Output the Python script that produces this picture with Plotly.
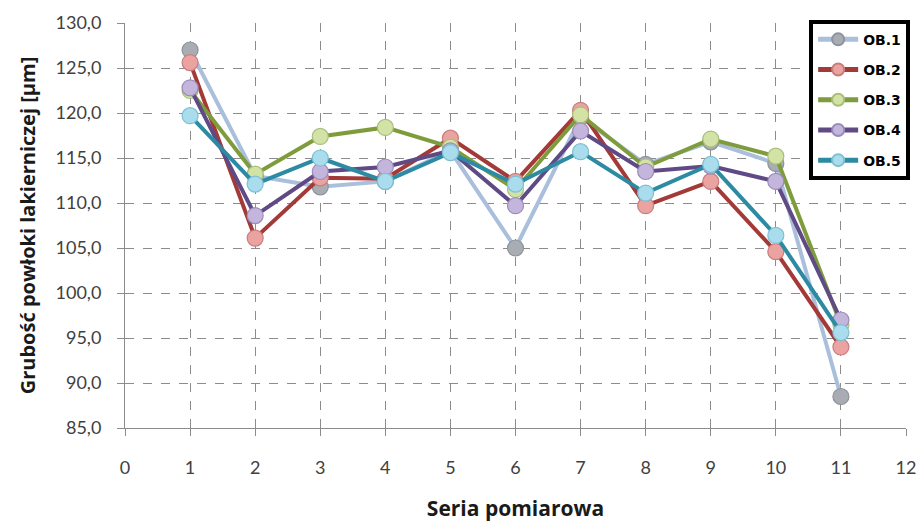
import plotly.graph_objects as go

series_x = [1, 2, 3, 4, 5, 6, 7, 8, 9, 10, 11]
names = ["OB.1", "OB.2", "OB.3", "OB.4", "OB.5"]
ob1 = [127.0, 113.0, 111.8, 112.4, 115.8, 105.0, 119.5, 114.3, 116.8, 114.4, 88.5]
ob2 = [125.6, 106.1, 112.8, 112.7, 117.2, 112.4, 120.3, 109.7, 112.4, 104.6, 94.0]
ob3 = [122.5, 113.2, 117.4, 118.4, 116.2, 111.5, 119.8, 114.0, 117.1, 115.2, 96.5]
ob4 = [122.8, 108.6, 113.5, 114.0, 115.8, 109.7, 118.0, 113.5, 114.1, 112.4, 97.0]
ob5 = [119.7, 112.1, 115.0, 112.4, 115.6, 112.1, 115.7, 111.1, 114.3, 106.4, 95.6]
y_ticks = [85, 90, 95, 100, 105, 110, 115, 120, 125, 130]
x_ticks = list(range(0, 13))

values = [ob1, ob2, ob3, ob4, ob5]
line_colors = ["#a9bfdc", "#a33a38", "#7f9c3c", "#5f4a85", "#2c8ba3"]
marker_colors = ["#a9adb3", "#eaa3a1", "#d3e3a6", "#c3b5dc", "#a9dcec"]
marker_edges = ["#8c939b", "#c97d7b", "#aabd7c", "#9a8cba", "#7fbfd2"]

fig = go.Figure()
for i, (n, v) in enumerate(zip(names, values)):
    fig.add_trace(go.Scatter(
        x=series_x, y=v, name=n, mode="lines+markers",
        legendgroup=n,
        line=dict(color=line_colors[i], width=4),
        marker=dict(size=16, color=marker_colors[i],
                    line=dict(color=marker_edges[i], width=1.2)),
    ))

fig.update_layout(
    width=922, height=522,
    margin=dict(l=125, r=12, t=23, b=94),
    plot_bgcolor="white", paper_bgcolor="white",
    separators=",.",
    showlegend=True,
    legend=dict(
        x=0.876, y=1.008, xanchor="left", yanchor="top",
        bordercolor="black", borderwidth=4, bgcolor="white",
        font=dict(family="DejaVu Sans", size=14, color="black", weight="bold"),
        tracegroupgap=9, itemwidth=40, itemsizing="constant",
    ),
    xaxis=dict(
        range=[0, 12], tickvals=x_ticks, showgrid=True, automargin=False,
        gridcolor="#8c8c8c", griddash="dash", gridwidth=1,
        showline=True, linecolor="#8c8c8c", linewidth=1,
        ticks="outside", ticklen=7, tickcolor="#8c8c8c",
        ticklabelstandoff=16,
        tickfont=dict(family="Lato", size=18, color="#404040"),
        title=dict(text="Seria pomiarowa", standoff=24,
                   font=dict(family="Open Sans", size=21, color="#1a1a1a", weight="bold")),
        zeroline=False, mirror=False,
    ),
    yaxis=dict(
        range=[85, 130], tickvals=y_ticks, tickformat=".1f", showgrid=True, automargin=False,
        gridcolor="#8c8c8c", griddash="dash", gridwidth=1,
        showline=True, linecolor="#8c8c8c", linewidth=1,
        ticks="outside", ticklen=7, tickcolor="#8c8c8c",
        ticklabelstandoff=12,
        tickfont=dict(family="Lato", size=18, color="#404040"),
        title=dict(text="Grubość powłoki lakierniczej [µm]", standoff=14,
                   font=dict(family="Open Sans", size=20, color="#1a1a1a", weight="bold")),
        zeroline=False,
    ),
)

fig.write_html("out.html")
